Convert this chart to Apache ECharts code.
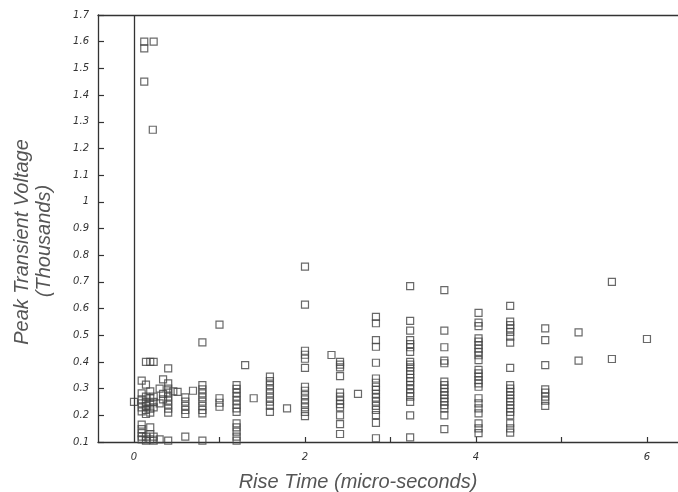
<!DOCTYPE html>
<html>
<head>
<meta charset="utf-8">
<script src="https://cdn.jsdelivr.net/npm/echarts@6/dist/echarts.min.js"></script>
<style>
html,body{margin:0;padding:0;background:#fff;}
#chart{width:678px;height:492px;}
</style>
</head>
<body>
<div id="chart"></div>
<script>
// Rise time (micro-seconds) of each column of points, and the voltages (thousands) in it
const riseTimes = [0.00, 0.09, 0.12, 0.14, 0.19, 0.22, 0.23, 0.30, 0.34, 0.40, 0.46, 0.51, 0.60, 0.69, 0.80,
  1.00, 1.20, 1.30, 1.40, 1.59, 1.79, 2.00, 2.31, 2.41, 2.62, 2.83, 3.23, 3.63, 4.03, 4.40, 4.81, 5.20, 5.59, 6.00];
const voltages = [
  [0.25],
  [0.33, 0.282, 0.26, 0.245, 0.23, 0.215, 0.165, 0.148, 0.133, 0.12, 0.11],
  [1.60, 1.575, 1.45],
  [0.40, 0.315, 0.27, 0.25, 0.235, 0.22, 0.205, 0.12, 0.105],
  [0.40, 0.29, 0.265, 0.245, 0.225, 0.21, 0.155, 0.13, 0.11],
  [1.27],
  [1.60, 0.40, 0.27, 0.25, 0.23, 0.12, 0.105],
  [0.30, 0.245, 0.11],
  [0.335, 0.28, 0.26],
  [0.376, 0.32, 0.30, 0.285, 0.27, 0.255, 0.24, 0.225, 0.21, 0.105],
  [0.29],
  [0.288],
  [0.267, 0.251, 0.235, 0.22, 0.205, 0.12],
  [0.292],
  [0.473, 0.313, 0.297, 0.282, 0.267, 0.251, 0.235, 0.22, 0.207, 0.105],
  [0.54, 0.264, 0.247, 0.232],
  [0.313, 0.299, 0.284, 0.27, 0.255, 0.24, 0.226, 0.213, 0.17, 0.155, 0.139, 0.12, 0.105],
  [0.388],
  [0.264],
  [0.345, 0.328, 0.313, 0.297, 0.282, 0.266, 0.251, 0.235, 0.213],
  [0.226],
  [0.757, 0.615, 0.442, 0.427, 0.412, 0.378, 0.307, 0.292, 0.276, 0.26, 0.245, 0.23, 0.213, 0.197],
  [0.426],
  [0.40, 0.39, 0.38, 0.347, 0.285, 0.27, 0.255, 0.242, 0.23, 0.20, 0.167, 0.13],
  [0.28],
  [0.569, 0.545, 0.482, 0.457, 0.397, 0.338, 0.322, 0.307, 0.295, 0.28, 0.266, 0.251, 0.235, 0.22, 0.201, 0.172, 0.114],
  [0.684, 0.554, 0.517, 0.482, 0.467, 0.455, 0.438, 0.40, 0.39, 0.38, 0.366, 0.353, 0.34, 0.328, 0.313, 0.298, 0.283, 0.27, 0.25, 0.20, 0.117],
  [0.669, 0.517, 0.455, 0.405, 0.395, 0.326, 0.313, 0.30, 0.288, 0.276, 0.263, 0.251, 0.238, 0.226, 0.20, 0.148],
  [0.584, 0.547, 0.534, 0.488, 0.476, 0.463, 0.45, 0.438, 0.425, 0.407, 0.37, 0.357, 0.345, 0.332, 0.32, 0.307, 0.264, 0.245, 0.226, 0.207, 0.17, 0.151, 0.133],
  [0.61, 0.551, 0.538, 0.526, 0.513, 0.495, 0.472, 0.378, 0.313, 0.30, 0.288, 0.276, 0.263, 0.251, 0.238, 0.226, 0.213, 0.20, 0.17, 0.151, 0.135],
  [0.526, 0.482, 0.388, 0.297, 0.285, 0.27, 0.255, 0.235],
  [0.511, 0.405],
  [0.70, 0.411],
  [0.486]
];
const xLabelValues = [0, 2, 4, 6];
const xTickValues = [1, 2, 3, 4, 5, 6];
const xTitle = 'Rise Time (micro-seconds)';
const yTitle1 = 'Peak Transient Voltage';
const yTitle2 = '(Thousands)';

const points = [];
riseTimes.forEach((x, i) => voltages[i].forEach(v => points.push([x, v])));

const ink = '#333';
const chart = echarts.init(document.getElementById('chart'), null, {renderer: 'canvas'});
chart.setOption({
  animation: false,
  backgroundColor: '#fff',
  grid: {left: 98, right: 0, top: 15, bottom: 50, containLabel: false},
  xAxis: [{
    type: 'value', min: -0.421, max: 6.363,
    axisLine: {show: true, onZero: false, lineStyle: {color: ink, width: 1.3}},
    axisTick: {show: true, inside: true, length: 5, customValues: xTickValues, lineStyle: {color: ink, width: 1.2}},
    axisLabel: {show: true, customValues: xLabelValues, margin: 10, color: ink, fontSize: 10,
      fontStyle: 'italic', fontFamily: 'DejaVu Sans'},
    splitLine: {show: false}
  }, {
    type: 'value', position: 'top', min: -0.421, max: 6.363,
    axisLine: {show: true, onZero: false, lineStyle: {color: ink, width: 1.3}},
    axisTick: {show: false}, axisLabel: {show: false}, splitLine: {show: false}
  }],
  yAxis: {
    type: 'value', min: 0.1, max: 1.7, interval: 0.1,
    axisLine: {show: true, onZero: false, lineStyle: {color: ink, width: 1.3}},
    axisTick: {show: true, inside: true, length: 6, lineStyle: {color: ink, width: 1.2}},
    axisLabel: {margin: 9, color: ink, fontSize: 10, fontStyle: 'italic', fontFamily: 'DejaVu Sans',
      formatter: v => String(+(+v).toFixed(1))},
    splitLine: {show: false}
  },
  series: [{
    type: 'scatter',
    data: points,
    symbol: 'rect',
    symbolSize: 7,
    itemStyle: {color: 'rgba(255,255,255,0)', borderColor: '#444', borderWidth: 1.2},
    markLine: {
      silent: true, symbol: ['none', 'none'], animation: false,
      label: {show: false},
      lineStyle: {color: ink, type: 'solid', width: 1.3},
      data: [{xAxis: 0}]
    }
  }],
  graphic: [
    {type: 'text', x: 358, y: 482, style: {text: xTitle, fill: '#555', font: 'italic 20px "Liberation Sans", Arial, sans-serif', align: 'center', verticalAlign: 'middle'}},
    {type: 'text', x: 22, y: 242, rotation: Math.PI / 2, style: {text: yTitle1, fill: '#555', font: 'italic 20px "Liberation Sans", Arial, sans-serif', align: 'center', verticalAlign: 'middle'}},
    {type: 'text', x: 44, y: 241, rotation: Math.PI / 2, style: {text: yTitle2, fill: '#555', font: 'italic 20px "Liberation Sans", Arial, sans-serif', align: 'center', verticalAlign: 'middle'}}
  ]
});
</script>
</body>
</html>
